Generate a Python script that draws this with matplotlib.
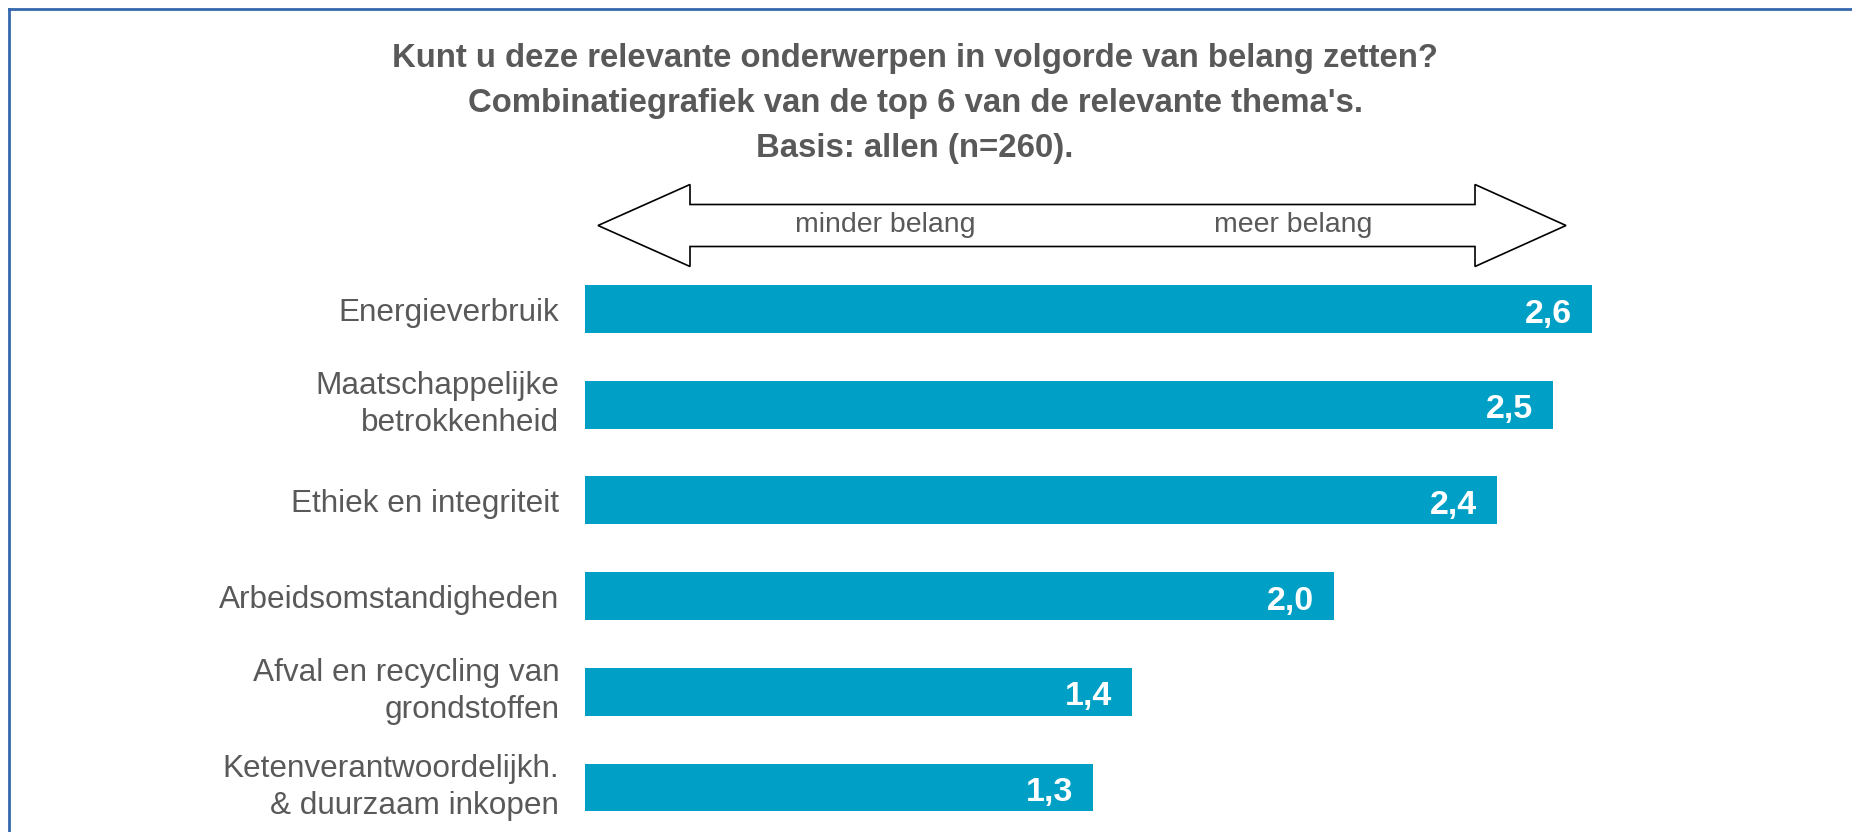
import matplotlib
matplotlib.use("Agg")
import matplotlib.pyplot as plt
from matplotlib.patches import Polygon
from matplotlib.lines import Line2D

# ---- data ----
categories = [
    "Energieverbruik",
    "Maatschappelijke\nbetrokkenheid",
    "Ethiek en integriteit",
    "Arbeidsomstandigheden",
    "Afval en recycling van\ngrondstoffen",
    "Ketenverantwoordelijkh.\n& duurzaam inkopen",
]
values = [2.636, 2.534, 2.387, 1.961, 1.432, 1.330]
title_lines = [
    "Kunt u deze relevante onderwerpen in volgorde van belang zetten?",
    "Combinatiegrafiek van de top 6 van de relevante thema's.",
    "Basis: allen (n=260).",
]
arrow_left_text = "minder belang"
arrow_right_text = "meer belang"

# ---- style ----
W, H = 1852, 832
DPI = 100
BAR_COLOR = "#00A0C6"
TEXT_GRAY = "#595959"
FONT = ["Liberation Sans", "DejaVu Sans"]
plt.rcParams["font.family"] = FONT

fig = plt.figure(figsize=(W / DPI, H / DPI), dpi=DPI)
fig.patch.set_facecolor("white")

def fx(px):
    return px / W

def fy(py):
    return 1 - py / H

# axes geometry (pixels)
ax_left, ax_right = 585, 1852
ax_top, ax_bottom = 240, 832
px_per_unit = 382.0
row_top_center, row_step = 309.0, 95.7

ax = fig.add_axes([fx(ax_left), fy(ax_bottom), (ax_right - ax_left) / W, (ax_bottom - ax_top) / H])
ax.set_xlim(0, (ax_right - ax_left) / px_per_unit)
ax.set_ylim((ax_bottom - row_top_center) / row_step, (ax_top - row_top_center) / row_step)

ypos = list(range(len(categories)))
ax.barh(ypos, values, height=0.5, color=BAR_COLOR, edgecolor="none")

for y, v in zip(ypos, values):
    lbl = f"{v:.1f}".replace(".", ",")
    ax.annotate(lbl, xy=(v, y), xytext=(-14.5, -3.6), textcoords="offset points",
                ha="right", va="center", color="white", fontsize=24.5,
                fontweight="bold", family=FONT)

ax.set_yticks(ypos)
ax.set_yticklabels(categories, fontsize=22.7, color=TEXT_GRAY, linespacing=1.3)
ax.tick_params(axis="y", length=0, pad=18.5)
for lab in ax.get_yticklabels():
    if "\n" in lab.get_text():
        lab.set_verticalalignment("center")
ax.set_xticks([])
for s in ax.spines.values():
    s.set_visible(False)
ax.patch.set_alpha(0)

# ---- title ----
title_y = [58.5, 103.5, 148.5]
for line, ty in zip(title_lines, title_y):
    fig.text(fx(915), fy(ty), line, ha="center", va="center", fontsize=23.7,
             fontweight="bold", color=TEXT_GRAY)

# ---- double-headed arrow ----
tipL, baseL, baseR, tipR = 598, 690, 1475, 1566
yc, shaft_half, head_half = 225.5, 21, 41
pts = [
    (tipL, yc), (baseL, yc - head_half), (baseL, yc - shaft_half),
    (baseR, yc - shaft_half), (baseR, yc - head_half), (tipR, yc),
    (baseR, yc + head_half), (baseR, yc + shaft_half), (baseL, yc + shaft_half),
    (baseL, yc + head_half),
]
arrow = Polygon([(fx(x), fy(y)) for x, y in pts], closed=True, transform=fig.transFigure,
                facecolor="white", edgecolor="black", linewidth=1.2, joinstyle="miter")
fig.add_artist(arrow)
fig.text(fx(885), fy(yc), arrow_left_text, ha="center", va="center", fontsize=20.5, color=TEXT_GRAY)
fig.text(fx(1293), fy(yc), arrow_right_text, ha="center", va="center", fontsize=20.5, color=TEXT_GRAY)

# ---- frame (left and top edges visible) ----
border_color = "#3567AE"
fig.add_artist(Line2D([fx(8.5), fx(8.5)], [fy(8.5), 0], transform=fig.transFigure,
                      color=border_color, linewidth=2.0))
fig.add_artist(Line2D([fx(8.5), 1], [fy(8.5), fy(8.5)], transform=fig.transFigure,
                      color=border_color, linewidth=2.0))

fig.savefig("out.png", dpi=DPI, facecolor="white")
